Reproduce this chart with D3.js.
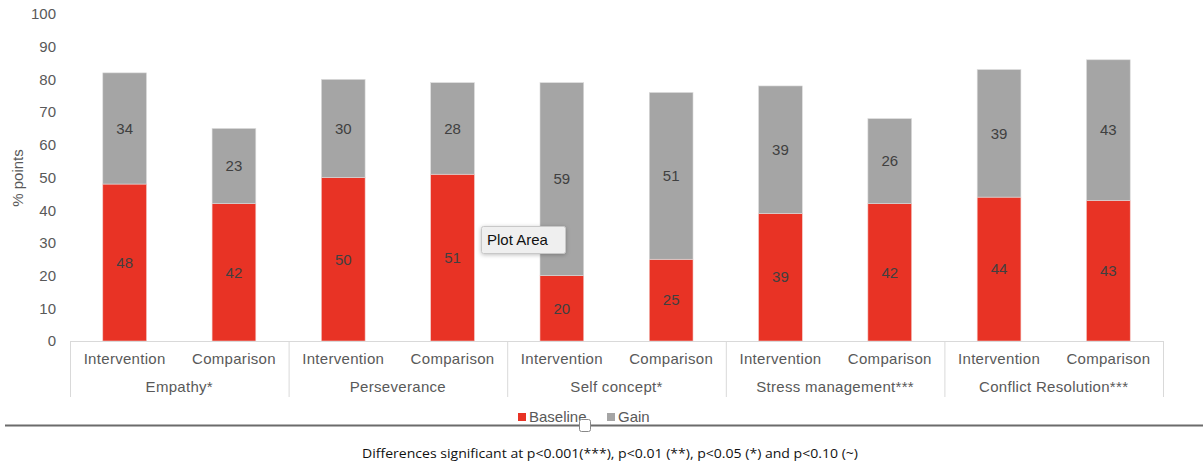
<!DOCTYPE html>
<html><head><meta charset="utf-8">
<script src="https://cdn.jsdelivr.net/npm/d3@7"></script>
<style>
html,body{margin:0;padding:0;background:#fff;}
svg{display:block;font-family:"Liberation Sans",Arial,sans-serif;}
</style></head>
<body><svg id="c" width="1203" height="467"></svg>
<script>
const groups = ["Empathy*","Perseverance","Self concept*","Stress management***","Conflict Resolution***"];
const arms = ["Intervention","Comparison"];
const baseline = [48,42,50,51,20,25,39,42,44,43];
const gain = [34,23,30,28,59,51,39,26,39,43];
const yTicks = [0,10,20,30,40,50,60,70,80,90,100];
const seriesNames = ["Baseline","Gain"];
const colors = ["#E83325","#A5A5A5"];

(function(){
const svg = d3.select("#c");
const pL = 70, pR = 1163, pT = 14, pB = 341;
const y = d3.scaleLinear().domain([0,100]).range([pB, pT]);
const gx = d3.scaleBand().domain(groups).range([pL, pR]);
const ax = d3.scaleBand().domain(arms).range([0, gx.bandwidth()]).paddingInner(0.6).paddingOuter(0.3);

const rows = [];
groups.forEach((g,gi)=>arms.forEach((a,ai)=>{
  const i = gi*2+ai;
  rows.push({g,a,b:baseline[i],gn:gain[i]});
}));

// y axis labels
const yAxis = d3.axisLeft(y).tickValues(yTicks).tickSize(0).tickPadding(14);
const ya = svg.append("g").attr("transform",`translate(${pL},0)`).call(yAxis);
ya.select(".domain").remove();
ya.selectAll("text").attr("fill","#595959").style("font-size","15px").attr("font-family","Liberation Sans, Arial, sans-serif");

svg.append("text").attr("transform",`translate(23,178) rotate(-90)`)
  .attr("text-anchor","middle").attr("fill","#595959").style("font-size","15px").text("% points");

// bars
const bars = svg.append("g");
rows.forEach(r=>{
  const x0 = gx(r.g)+ax(r.a);
  const w = ax.bandwidth();
  bars.append("rect").attr("x",x0).attr("width",w).attr("y",y(r.b)).attr("height",y(0)-y(r.b))
    .attr("fill",colors[0]).attr("stroke","#f4c9c4").attr("stroke-width",0.6);
  bars.append("rect").attr("x",x0).attr("width",w).attr("y",y(r.b+r.gn)).attr("height",y(r.b)-y(r.b+r.gn))
    .attr("fill",colors[1]).attr("stroke","#dcdcdc").attr("stroke-width",0.6);
  bars.append("text").attr("x",x0+w/2).attr("y",y(r.b/2)).attr("dy","0.35em").attr("text-anchor","middle")
    .attr("fill","#404040").style("font-size","15px").text(r.b);
  bars.append("text").attr("x",x0+w/2).attr("y",y(r.b+r.gn/2)).attr("dy","0.35em").attr("text-anchor","middle")
    .attr("fill","#404040").style("font-size","15px").text(r.gn);
});

// category axis box
const axg = svg.append("g");
axg.append("line").attr("x1",pL).attr("x2",pR).attr("y1",pB+0.5).attr("y2",pB+0.5).attr("stroke","#d9d9d9");
gx.domain().concat([null]).forEach((g,i)=>{
  const xx = g===null ? pR : gx(g);
  axg.append("line").attr("x1",xx+0.5).attr("x2",xx+0.5).attr("y1",pB).attr("y2",397).attr("stroke","#d9d9d9");
});
rows.forEach(r=>{
  axg.append("text").attr("x",gx(r.g)+ax(r.a)+ax.bandwidth()/2).attr("y",364).attr("text-anchor","middle")
    .attr("fill","#595959").style("font-size","15px").style("letter-spacing","0.3px").text(r.a);
});
groups.forEach(g=>{
  axg.append("text").attr("x",gx(g)+gx.bandwidth()/2).attr("y",392).attr("text-anchor","middle")
    .attr("fill","#595959").style("font-size","15px").style("letter-spacing","0.3px").text(g);
});

// legend
const lg = svg.append("g");
const legX = [518,607];
seriesNames.forEach((s,i)=>{
  lg.append("rect").attr("x",legX[i]).attr("y",413).attr("width",8).attr("height",8).attr("fill",colors[i]);
  lg.append("text").attr("x",legX[i]+11).attr("y",421.5).attr("fill","#595959").style("font-size","15px").text(s);
});

// separator line and handle
svg.append("line").attr("x1",5).attr("x2",1203).attr("y1",425.5).attr("y2",425.5).attr("stroke","#6b6b6b").attr("stroke-width",2);
svg.append("rect").attr("x",579.5).attr("y",419.5).attr("width",11).attr("height",12).attr("rx",2)
  .attr("fill","#fff").attr("stroke","#888").attr("stroke-width",1);

// footnote
svg.append("text").attr("x",362).attr("y",458).attr("fill","#111")
  .attr("font-family","Open Sans, sans-serif").style("font-size","12px")
  .attr("textLength",496).attr("lengthAdjust","spacingAndGlyphs")
  .text("Differences significant at p<0.001(***), p<0.01 (**), p<0.05 (*) and p<0.10 (~)");

// Plot Area tooltip
const defs = svg.append("defs");
const f = defs.append("filter").attr("id","sh").attr("x","-30%").attr("y","-50%").attr("width","160%").attr("height","200%");
f.append("feDropShadow").attr("dx",0).attr("dy",1).attr("stdDeviation",2).attr("flood-color","#000").attr("flood-opacity",0.25);
const tip = svg.append("g");
tip.append("rect").attr("x",481.5).attr("y",226.5).attr("width",84).attr("height",27).attr("rx",2)
  .attr("fill","#efefef").attr("stroke","#c8c8c8").attr("filter","url(#sh)");
tip.append("text").attr("x",487).attr("y",245).attr("fill","#111").style("font-size","15px").text("Plot Area");
})();
</script></body></html>
